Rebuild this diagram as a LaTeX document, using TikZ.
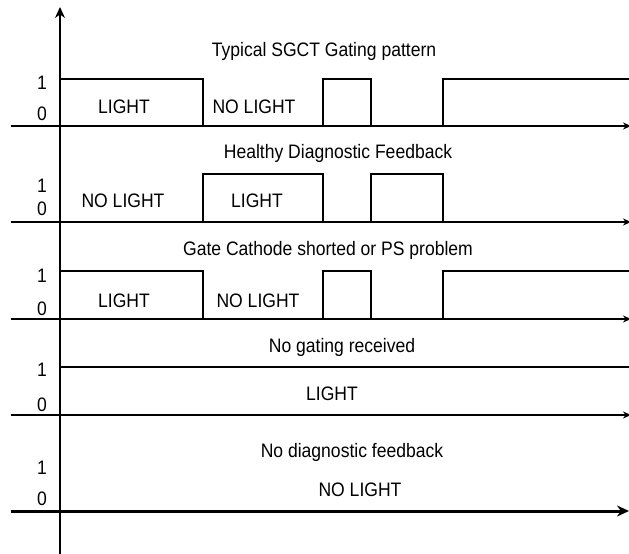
\documentclass[tikz,border=0pt]{standalone}
\usepackage{fontspec}
\setmainfont{Liberation Sans}[FakeStretch=0.9]
\usetikzlibrary{arrows.meta}
\begin{document}
\begin{tikzpicture}[x=1pt,y=-1pt,
  lbl/.style={anchor=base,inner sep=0pt,font=\fontsize{19.5}{22}\selectfont},
  wave/.style={line width=1.1pt,line join=miter},
  axisline/.style={line width=1.1pt,-{Stealth[length=8pt,width=7pt]}},
  vaxis/.style={line width=1.1pt,-{Stealth[length=11pt,width=10pt]}},
  thickaxis/.style={line width=3pt,-{Stealth[length=12pt,width=11pt]}}]
\useasboundingbox (0,0) rectangle (629,554);
% vertical axis
\coordinate (vb) at (60,554);
\coordinate (vt) at (60,7);
\draw[vaxis] (vb) -- (vt);
% horizontal axes
\foreach \n/\y in {a/126,b/222,c/319,d/415}{
  \coordinate (\n0) at (11,\y);
  \coordinate (\n1) at (631,\y);
  \draw[axisline] (\n0) -- (\n1);
}
\coordinate (e0) at (11,511);
\coordinate (e1) at (629,511);
\draw[thickaxis] (e0) -- (e1);
% row 1 waveform
\draw[wave] (60,126) -- (60,79) -- (203,79) -- (203,126);
\draw[wave] (323,126) -- (323,79) -- (371,79) -- (371,126);
\draw[wave] (443,126) -- (443,79) -- (629,79);
% row 2 waveform
\draw[wave] (203,222) -- (203,174) -- (323,174) -- (323,222);
\draw[wave] (371,222) -- (371,174) -- (443,174) -- (443,222);
% row 3 waveform
\draw[wave] (60,319) -- (60,271) -- (203,271) -- (203,319);
\draw[wave] (323,319) -- (323,271) -- (371,271) -- (371,319);
\draw[wave] (443,319) -- (443,271) -- (629,271);
% row 4 waveform
\draw[wave] (60,367) -- (629,367);
% level labels
\foreach \n/\t/\y in {a1/1/89,a0/0/120,b1/1/192,b0/0/215,c1/1/282,c0/0/315,d1/1/376,d0/0/411,e1/1/474,e0/0/505}{
  \node[lbl] (lv\n) at (42,\y) {\t};
}
% titles
\node[lbl] (t1) at (324,56) {Typical SGCT Gating pattern};
\node[lbl] (t2) at (338,158) {Healthy Diagnostic Feedback};
\node[lbl] (t3) at (328,255) {Gate Cathode shorted or PS problem};
\node[lbl] (t4) at (342,352) {No gating received};
\node[lbl] (t5) at (352,457) {No diagnostic feedback};
% state labels
\node[lbl] (s1a) at (124,113) {LIGHT};
\node[lbl] (s1b) at (254,113) {NO LIGHT};
\node[lbl] (s2a) at (123,207) {NO LIGHT};
\node[lbl] (s2b) at (257,207) {LIGHT};
\node[lbl] (s3a) at (124,307) {LIGHT};
\node[lbl] (s3b) at (258,307) {NO LIGHT};
\node[lbl] (s4) at (332,400) {LIGHT};
\node[lbl] (s5) at (360,496) {NO LIGHT};
\end{tikzpicture}
\end{document}
